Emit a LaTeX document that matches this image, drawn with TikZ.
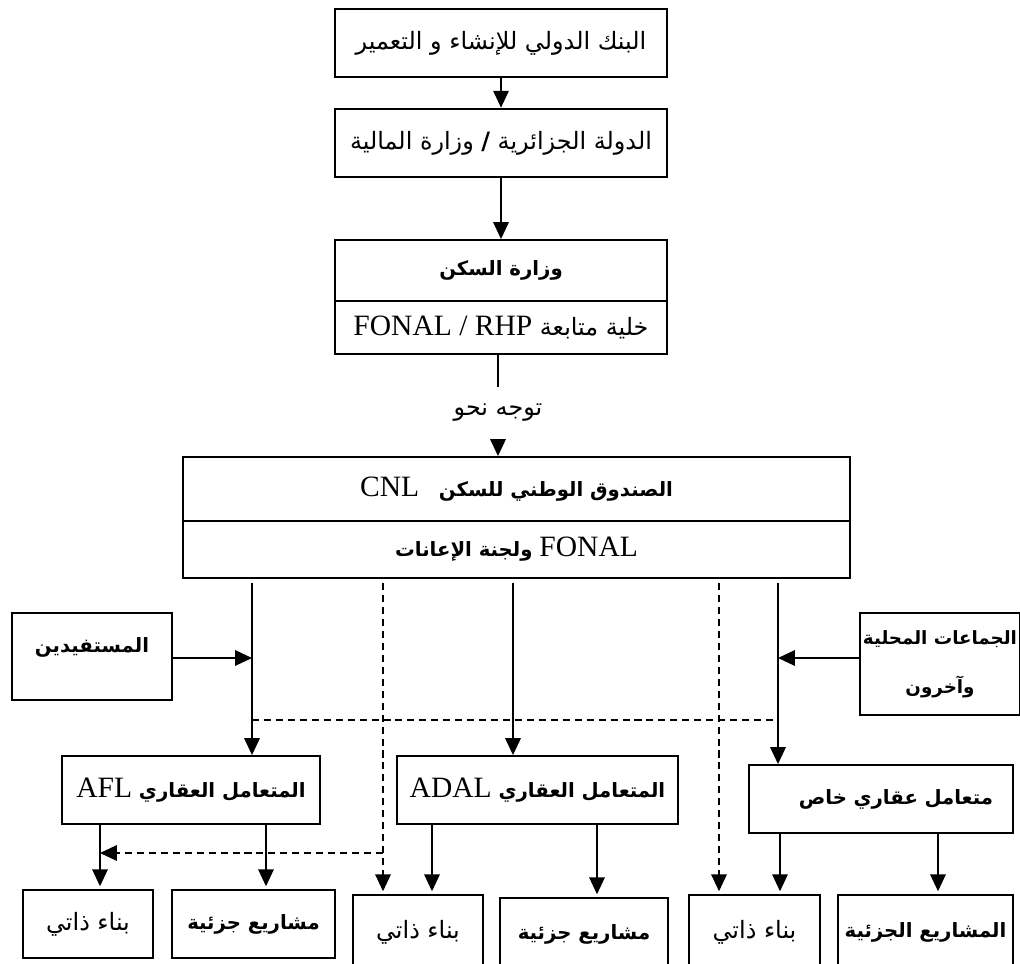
\documentclass[tikz,border=0pt]{standalone}
\usepackage{fontspec}
\usetikzlibrary{arrows.meta}
\TeXXeTstate=1
\newfontfamily\arabicfont[Script=Arabic]{DejaVu Sans}
\newfontfamily\latinfont{Liberation Serif}
\newcommand{\arsize}{\fontsize{17}{20}\selectfont}
\newcommand{\arbsize}{\fontsize{14}{17}\selectfont}
\newcommand{\lword}[1]{\beginL{\latinfont\mdseries\fontsize{21}{25}\selectfont #1}\endL}

\begin{document}
\begin{tikzpicture}[x=0.025cm, y=-0.025cm,
    bx/.style={draw, line width=1.3pt, inner sep=0pt, text centered,
               font=\arabicfont\arsize},
    bb/.style={bx, font=\arabicfont\bfseries\arbsize},
    arr/.style={-{Triangle[length=12pt, width=11pt]}, line width=1.1pt},
    dsh/.style={dash pattern=on 5pt off 3.5pt, line width=1.1pt},
    darr/.style={dsh, -{Triangle[length=12pt, width=11pt]}}
  ]
  \clip (0,0) rectangle (1020,964);

  \node[bx, minimum width=8.3cm, minimum height=1.7cm] (bank) at (501,43)
    {\beginR البنك الدولي للإنشاء و التعمير\endR};
  \node[bx, minimum width=8.3cm, minimum height=1.72cm] (state) at (501,143)
    {\beginR الدولة الجزائرية {\bfseries /} وزارة المالية\endR};
  \node[bb, minimum width=8.3cm, minimum height=1.525cm] (sakan) at (501,270.5)
    {\beginR وزارة السكن\endR};
  \node[bx, minimum width=8.3cm, minimum height=1.325cm] (sakanb) at (501,327.5)
    {\beginR خلية متابعة \lword{FONAL / RHP}\endR};
  \node[font=\arabicfont\arsize, inner sep=0pt, minimum height=1.3cm] (toward) at (498,413)
    {\beginR توجه نحو\endR};
  \node[bb, minimum width=16.675cm, minimum height=1.6cm] (cnl) at (516.5,489)
    {\beginR الصندوق الوطني للسكن\quad\lword{CNL}\endR};
  \node[bb, minimum width=16.675cm, minimum height=1.425cm] (cnlb) at (516.5,549.5)
    {\beginR\lword{FONAL} ولجنة الإعانات\endR};

  \node[bb, minimum width=4cm, minimum height=2.175cm, text height=9pt, text depth=15pt]
    (benef) at (92,656.5) {\beginR المستفيدين\endR};
  \node[bb, minimum width=4cm, minimum height=2.55cm, align=center,
        font=\arabicfont\bfseries\fontsize{13}{16}\selectfont] (local) at (940,664)
    {\beginR الجماعات المحلية\endR\\[19pt]\beginR وآخرون\endR};

  \node[bb, minimum width=6.45cm, minimum height=1.7cm] (afl) at (191,790)
    {\beginR المتعامل العقاري \lword{AFL}\endR};
  \node[bb, minimum width=7.025cm, minimum height=1.7cm] (adal) at (537.5,790)
    {\beginR المتعامل العقاري \lword{ADAL}\endR};
  \node[bb, minimum width=6.6cm, minimum height=1.7cm, text width=5.6cm, align=right]
    (priv) at (881,799) {\beginR متعامل عقاري خاص\endR};

  \node[bx, minimum width=3.25cm, minimum height=1.7cm] (b1) at (88,924)
    {\beginR بناء ذاتي\endR};
  \node[bb, minimum width=4.075cm, minimum height=1.7cm] (b2) at (253.5,924)
    {\beginR مشاريع جزئية\endR};
  \node[bx, minimum width=3.25cm, minimum height=1.875cm] (b3) at (418,932.5)
    {\beginR بناء ذاتي\endR};
  \node[bb, minimum width=4.2cm, minimum height=1.8cm] (b4) at (584,934)
    {\beginR مشاريع جزئية\endR};
  \node[bx, minimum width=3.275cm, minimum height=1.875cm] (b5) at (754.5,932.5)
    {\beginR بناء ذاتي\endR};
  \node[bb, minimum width=4.375cm, minimum height=1.875cm] (b6) at (925.5,932.5)
    {\beginR المشاريع الجزئية\endR};

  \coordinate (ja) at (252,658);
  \coordinate (je) at (778,658);
  \coordinate (da) at (252,720);
  \coordinate (de) at (778,720);
  \coordinate (dd) at (719,720);
  \coordinate (xc) at (513,720);
  \coordinate (db) at (383,853);
  \coordinate (ka) at (100,853);
  \coordinate (kb) at (266,853);
  \coordinate (kc) at (432,853);
  \coordinate (kd) at (597,853);
  \coordinate (ke) at (780,853);
  \coordinate (kf) at (938,853);

  \draw[arr] (bank) -- (state);
  \draw[arr] (state) -- (sakan);
  \draw[line width=1.1pt] (sakanb.south -| toward) -- (toward);
  \draw[arr] (toward.south) -- (toward.south |- cnl.north);

  \draw[arr, shorten <=3pt] (cnlb.south -| ja) -- (afl.north -| ja);
  \draw[arr, shorten <=3pt] (cnlb.south -| xc) -- (adal.north -| xc);
  \draw[arr, shorten <=3pt] (cnlb.south -| je) -- (priv.north -| je);
  \draw[arr] (benef.east |- ja) -- (ja);
  \draw[arr] (local.west |- je) -- (je);
  \draw[dsh] (da) -- (de);
  \draw[darr, shorten <=3pt, shorten >=2pt] (cnlb.south -| db) -- (b3.north -| db);
  \draw[darr, shorten <=3pt, shorten >=2pt] (cnlb.south -| dd) -- (b5.north -| dd);
  \draw[darr] (db) -- (ka);

  \draw[arr, shorten >=2pt] (afl.south -| ka) -- (b1.north -| ka);
  \draw[arr, shorten >=2pt] (afl.south -| kb) -- (b2.north -| kb);
  \draw[arr, shorten >=2pt] (adal.south -| kc) -- (b3.north -| kc);
  \draw[arr, shorten >=2pt] (adal.south -| kd) -- (b4.north -| kd);
  \draw[arr, shorten >=2pt] (priv.south -| ke) -- (b5.north -| ke);
  \draw[arr, shorten >=2pt] (priv.south -| kf) -- (b6.north -| kf);
\end{tikzpicture}
\end{document}
